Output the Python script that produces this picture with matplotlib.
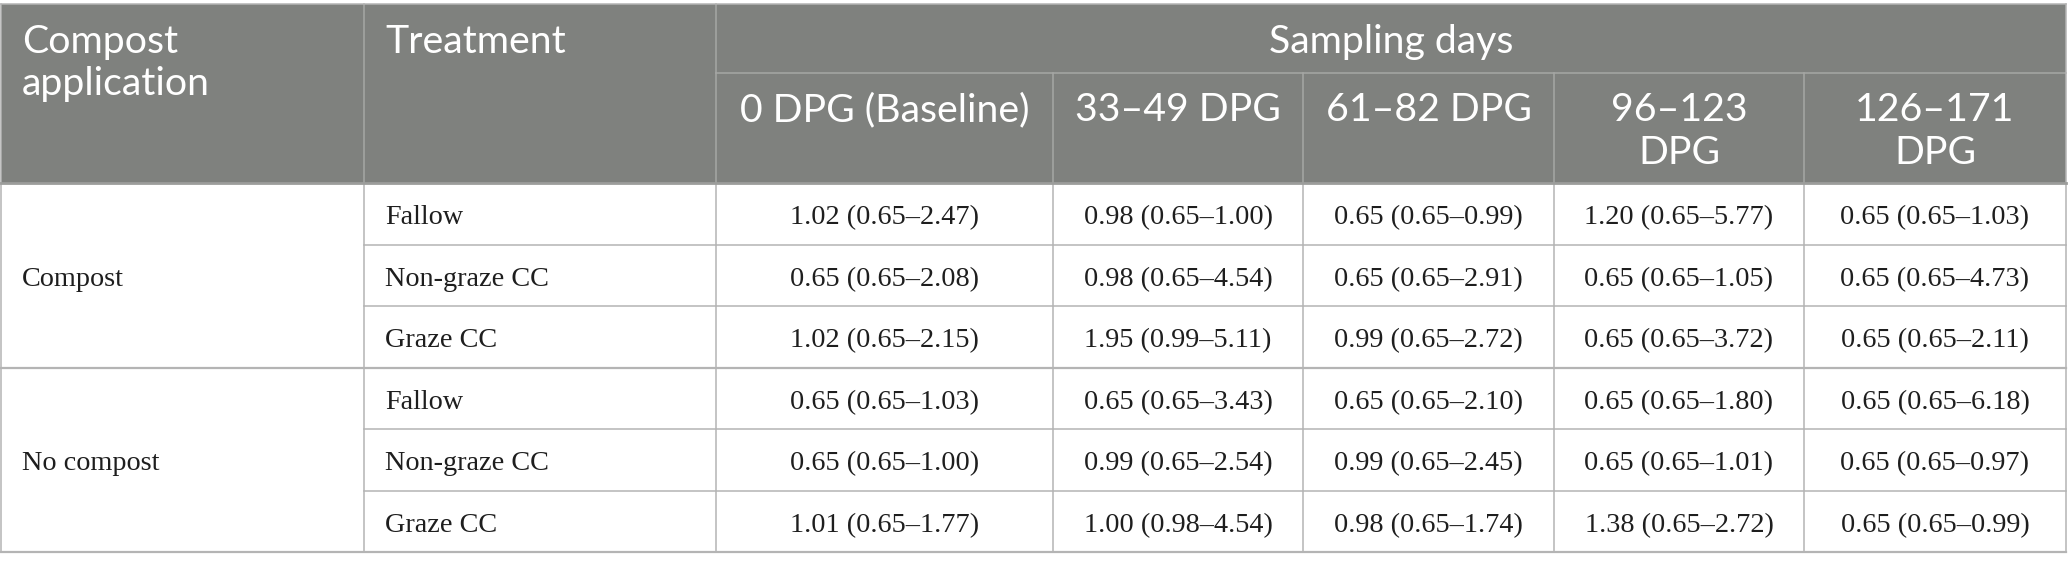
import matplotlib
matplotlib.use("Agg")
import matplotlib.pyplot as plt
from matplotlib.patches import Rectangle

# ---------------- data ----------------
compost_groups = ["Compost", "No compost"]
treatments = ["Fallow", "Non-graze CC", "Graze CC"]
header_first = ["Compost\napplication", "Treatment"]
span_header = "Sampling days"
sampling_periods = ["0 DPG (Baseline)", "33\u201349 DPG", "61\u201382 DPG",
                    "96\u2013123\nDPG", "126\u2013171\nDPG"]

# rows: Compost/Fallow, Compost/Non-graze, Compost/Graze, No compost/Fallow, ...
median_vals = [
    [1.02, 0.98, 0.65, 1.20, 0.65],
    [0.65, 0.98, 0.65, 0.65, 0.65],
    [1.02, 1.95, 0.99, 0.65, 0.65],
    [0.65, 0.65, 0.65, 0.65, 0.65],
    [0.65, 0.99, 0.99, 0.65, 0.65],
    [1.01, 1.00, 0.98, 1.38, 0.65],
]
low_vals = [
    [0.65, 0.65, 0.65, 0.65, 0.65],
    [0.65, 0.65, 0.65, 0.65, 0.65],
    [0.65, 0.99, 0.65, 0.65, 0.65],
    [0.65, 0.65, 0.65, 0.65, 0.65],
    [0.65, 0.65, 0.65, 0.65, 0.65],
    [0.65, 0.98, 0.65, 0.65, 0.65],
]
high_vals = [
    [2.47, 1.00, 0.99, 5.77, 1.03],
    [2.08, 4.54, 2.91, 1.05, 4.73],
    [2.15, 5.11, 2.72, 3.72, 2.11],
    [1.03, 3.43, 2.10, 1.80, 6.18],
    [1.00, 2.54, 2.45, 1.01, 0.97],
    [1.77, 4.54, 1.74, 2.72, 0.99],
]

# ---------------- layout (pixels) ----------------
W, H = 2068, 570
col_edges = [1, 364, 716, 1053, 1303, 1554, 1804, 2066]
y_top, y_sub, y_head = 4, 73, 183
row_h = (552 - 183) / 6.0

HEAD_BG = "#7f817e"
HEAD_LINE = "#a6a7a5"
BODY_LINE = "#b4b4b4"
TEXT_DARK = "#1e1e1e"

fig = plt.figure(figsize=(W / 100, H / 100), dpi=100)
ax = fig.add_axes([0, 0, 1, 1])
ax.set_xlim(0, W)
ax.set_ylim(H, 0)
ax.axis("off")
fig.patch.set_facecolor("white")

renderer = fig.canvas.get_renderer()


def fit_size(text, family, target_px):
    t = ax.text(0, 0, text, fontsize=10, family=family)
    w = t.get_window_extent(renderer=renderer).width
    t.remove()
    return 10 * target_px / w


HEAD_FAM = ["Lato", "DejaVu Sans"]
BODY_FAM = ["Liberation Serif", "DejaVu Serif"]
head_fs = fit_size("0 DPG (Baseline)", HEAD_FAM, 289)
body_fs = fit_size("1.02 (0.65\u20132.47)", BODY_FAM, 188)

# header background
ax.add_patch(Rectangle((col_edges[0], y_top), col_edges[-1] - col_edges[0],
                       y_head - y_top, facecolor=HEAD_BG, edgecolor="none", zorder=1))

lw = 1.1
# header lines
ax.plot([col_edges[2], col_edges[-1]], [y_sub, y_sub], color=HEAD_LINE, lw=lw, zorder=2)
for x in col_edges[1:3]:
    ax.plot([x, x], [y_top, y_head], color=HEAD_LINE, lw=lw, zorder=2)
for x in col_edges[3:-1]:
    ax.plot([x, x], [y_sub, y_head], color=HEAD_LINE, lw=lw, zorder=2)

# body lines
for x in col_edges:
    ax.plot([x, x], [y_head, 552], color=BODY_LINE, lw=lw, zorder=2)
for x in (col_edges[0], col_edges[-1]):
    ax.plot([x, x], [y_top, y_head], color=BODY_LINE, lw=lw, zorder=2)
ax.plot([col_edges[0], col_edges[-1]], [y_top, y_top], color=BODY_LINE, lw=lw, zorder=2)
n_rows = len(compost_groups) * len(treatments)
for r in range(1, n_rows + 1):
    y = y_head + r * row_h
    if r % len(treatments) == 0:
        ax.plot([col_edges[0], col_edges[-1]], [y, y], color=BODY_LINE, lw=1.6, zorder=2)
    else:
        ax.plot([col_edges[1], col_edges[-1]], [y, y], color=BODY_LINE, lw=lw, zorder=2)
ax.plot([col_edges[0], col_edges[-1]], [y_head, y_head], color="#9c9d9b", lw=2.0, zorder=3)

# header text (baselines)
line_gap = 42.5


def head_text(x, y_base, s, ha):
    for i, ln in enumerate(s.split("\n")):
        ax.text(x, y_base + i * line_gap, ln, ha=ha, va="baseline", color="white",
                fontsize=head_fs, family=HEAD_FAM, zorder=4)


head_text(col_edges[0] + 21, 53, header_first[0], "left")
head_text(col_edges[1] + 21, 53, header_first[1], "left")
head_text((col_edges[2] + col_edges[-1]) / 2, 53, span_header, "center")
for j, lab in enumerate(sampling_periods):
    cx = (col_edges[2 + j] + col_edges[3 + j]) / 2
    head_text(cx, 121, lab, "center")

# body text
for g, grp in enumerate(compost_groups):
    gy = y_head + (g * len(treatments) + len(treatments) / 2) * row_h
    ax.text(col_edges[0] + 21, gy + 10.5, grp, ha="left", va="baseline",
            color=TEXT_DARK, fontsize=body_fs, family=BODY_FAM, zorder=4)
    for t, tr in enumerate(treatments):
        r = g * len(treatments) + t
        cy = y_head + (r + 0.5) * row_h
        ax.text(col_edges[1] + 21, cy + 10.5, tr, ha="left", va="baseline",
                color=TEXT_DARK, fontsize=body_fs, family=BODY_FAM, zorder=4)
        for j in range(len(sampling_periods)):
            s = f"{median_vals[r][j]:.2f} ({low_vals[r][j]:.2f}\u2013{high_vals[r][j]:.2f})"
            cx = (col_edges[2 + j] + col_edges[3 + j]) / 2
            ax.text(cx, cy + 10.5, s, ha="center", va="baseline",
                    color=TEXT_DARK, fontsize=body_fs, family=BODY_FAM, zorder=4)

fig.savefig("out.png", dpi=100, facecolor="white")
